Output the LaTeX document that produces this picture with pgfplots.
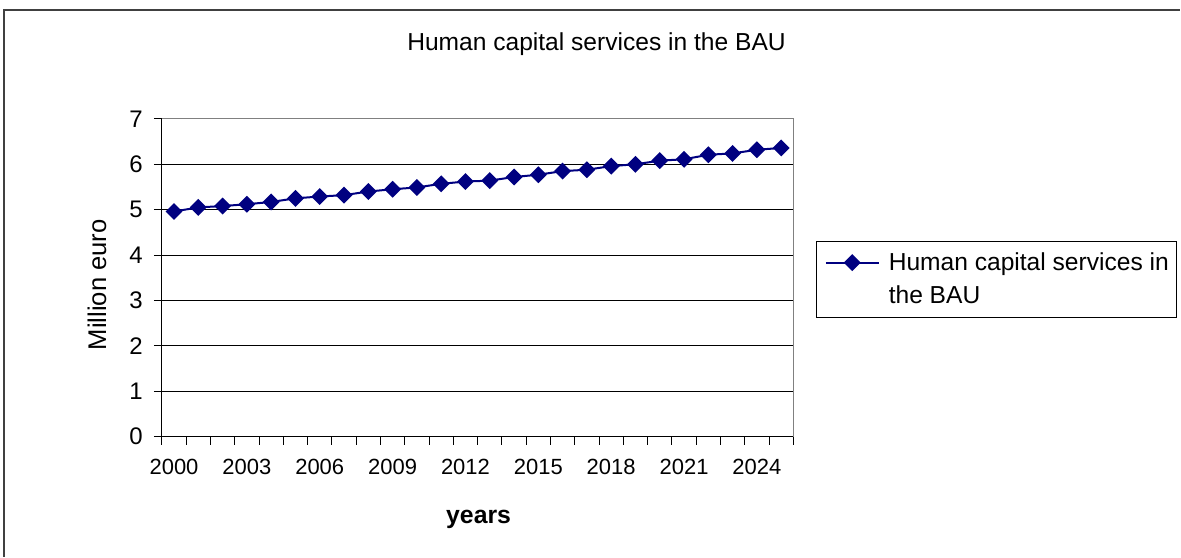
\documentclass[border=0pt]{standalone}
\usepackage{pgfplots}
\pgfplotsset{compat=1.18}
\usepackage{fontspec}
\setmainfont{Liberation Sans}
\definecolor{navy}{RGB}{0,0,128}
\pgfplotstableread{
year value
2000 4.96
2001 5.05
2002 5.08
2003 5.12
2004 5.17
2005 5.25
2006 5.29
2007 5.32
2008 5.40
2009 5.45
2010 5.49
2011 5.57
2012 5.62
2013 5.64
2014 5.72
2015 5.77
2016 5.85
2017 5.88
2018 5.96
2019 6.00
2020 6.08
2021 6.11
2022 6.21
2023 6.24
2024 6.32
2025 6.36
}\datatable
\begin{document}
\begin{tikzpicture}
\path (0,0) rectangle (590.5pt,278.5pt);
\draw[black!75, line width=1pt] (2pt,0) -- (2pt,273.5pt) -- (590.5pt,273.5pt);
\node[font=\fontsize{12.3}{14}\selectfont] at (298.5pt,256.5pt) {Human capital services in the BAU};
\node[font=\fontsize{12.4}{14}\selectfont\bfseries] at (239.5pt,18.5pt) {years};
\node[font=\fontsize{12.8}{14}\selectfont, rotate=90] at (48.5pt,136pt) {Million euro};
\begin{axis}[
  at={(81pt,60pt)}, anchor=south west,
  scale only axis, width=316pt, height=159pt,
  xmin=1999.5, xmax=2025.5, ymin=0, ymax=7,
  axis x line*=bottom, axis y line*=left,
  axis line style={black, line width=0.6pt},
  xtick={1999.5,2000.5,...,2025.5}, xticklabels={},
  extra x ticks={2000,2003,2006,2009,2012,2015,2018,2021,2024},
  extra x tick labels={2000,2003,2006,2009,2012,2015,2018,2021,2024},
  extra x tick style={major tick length=0pt, grid=none},
  ytick={0,1,...,7},
  tick align=outside, major tick length=4pt,
  tick style={black, line width=0.5pt},
  ymajorgrids, grid style={black, line width=0.5pt},
  x tick label style={font=\fontsize{11}{12}\selectfont},
  y tick label style={font=\fontsize{12}{13}\selectfont},
  /pgf/number format/assume math mode=true,
  xticklabel shift=7.5pt, yticklabel shift=2pt,
  clip=false,
  legend style={at={(1.0364,0.6164)}, anchor=north west, draw=black, line width=0.5pt,
    inner xsep=4pt, inner ysep=5.5pt, column sep=4.5pt,
    nodes={inner sep=0pt, font=\fontsize{12.3}{16.5}\selectfont}, cells={align=left}},
  legend cell align=left,
  legend image code/.code={
    \path[draw=none, fill=none] (0pt,-10.75pt) rectangle (0.1pt,10.75pt);
    \draw[mark repeat=2,mark phase=2,#1] plot coordinates {(0pt,8.25pt) (13.25pt,8.25pt) (26.5pt,8.25pt)};},
]
\draw[gray, line width=0.6pt] (rel axis cs:0,1) -- (rel axis cs:1,1) -- (rel axis cs:1,0);
\addplot[navy, line width=1pt, mark=square*, mark size=2.5pt, mark options={rotate=45, fill=navy, draw=navy, solid}] table[x=year, y=value] {\datatable};
\addlegendentry{Human capital services in\\the BAU}
\end{axis}
\end{tikzpicture}
\end{document}
